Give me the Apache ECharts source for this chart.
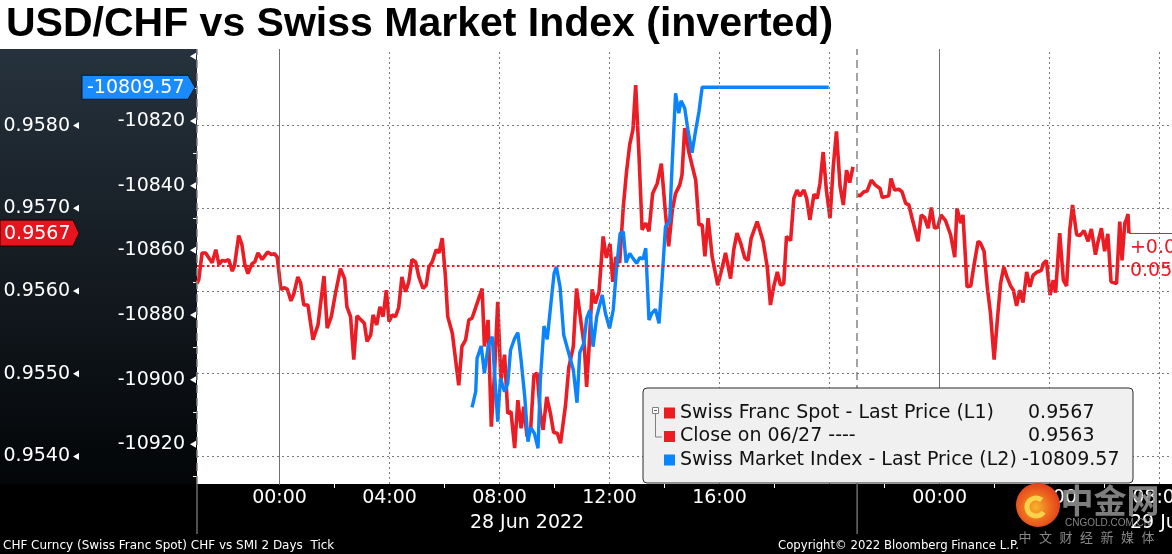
<!DOCTYPE html>
<html><head><meta charset="utf-8">
<script src="https://cdn.jsdelivr.net/npm/echarts@6/dist/echarts.min.js"></script>
<style>html,body{margin:0;padding:0;background:#fff}#c{width:1172px;height:554px}</style>
</head><body><div id="c"></div>
<script>
// ---------------- data ----------------
const chartTitle = 'USD/CHF vs Swiss Market Index (inverted)';
const chfTimes = [
'2022-06-27 21:00','2022-06-27 21:04','2022-06-27 21:11','2022-06-27 21:19','2022-06-27 21:33','2022-06-27 21:41','2022-06-27 21:48','2022-06-27 21:55',
'2022-06-27 22:02','2022-06-27 22:09','2022-06-27 22:17','2022-06-27 22:22','2022-06-27 22:31','2022-06-27 22:38','2022-06-27 22:44','2022-06-27 22:51',
'2022-06-27 23:00','2022-06-27 23:06','2022-06-27 23:13','2022-06-27 23:22','2022-06-27 23:34','2022-06-27 23:42','2022-06-27 23:49','2022-06-27 23:55',
'2022-06-28 00:03','2022-06-28 00:11','2022-06-28 00:17','2022-06-28 00:25','2022-06-28 00:31','2022-06-28 00:40','2022-06-28 00:46','2022-06-28 00:53',
'2022-06-28 01:02','2022-06-28 01:13','2022-06-28 01:24','2022-06-28 01:37','2022-06-28 01:44','2022-06-28 01:53','2022-06-28 02:02','2022-06-28 02:13',
'2022-06-28 02:22','2022-06-28 02:27','2022-06-28 02:35','2022-06-28 02:42','2022-06-28 02:49','2022-06-28 03:05','2022-06-28 03:11','2022-06-28 03:19',
'2022-06-28 03:24','2022-06-28 03:32','2022-06-28 03:39','2022-06-28 03:46','2022-06-28 03:53','2022-06-28 03:59','2022-06-28 04:06','2022-06-28 04:13',
'2022-06-28 04:20','2022-06-28 04:27','2022-06-28 04:35','2022-06-28 04:42','2022-06-28 04:49','2022-06-28 04:57','2022-06-28 05:04','2022-06-28 05:13',
'2022-06-28 05:20','2022-06-28 05:26','2022-06-28 05:33','2022-06-28 05:42','2022-06-28 05:48','2022-06-28 05:55','2022-06-28 06:02','2022-06-28 06:07',
'2022-06-28 06:17','2022-06-28 06:31','2022-06-28 06:38','2022-06-28 06:46','2022-06-28 06:53','2022-06-28 07:00','2022-06-28 07:11','2022-06-28 07:22',
'2022-06-28 07:27','2022-06-28 07:35','2022-06-28 07:42','2022-06-28 07:49','2022-06-28 07:56','2022-06-28 08:03','2022-06-28 08:11','2022-06-28 08:18',
'2022-06-28 08:25','2022-06-28 08:33','2022-06-28 08:40','2022-06-28 08:47','2022-06-28 08:53','2022-06-28 09:00','2022-06-28 09:08','2022-06-28 09:15',
'2022-06-28 09:22','2022-06-28 09:29','2022-06-28 09:35','2022-06-28 09:43','2022-06-28 09:51','2022-06-28 09:58','2022-06-28 10:06','2022-06-28 10:13',
'2022-06-28 10:24','2022-06-28 10:31','2022-06-28 10:41','2022-06-28 10:48','2022-06-28 10:58','2022-06-28 11:05','2022-06-28 11:10','2022-06-28 11:15',
'2022-06-28 11:22','2022-06-28 11:29','2022-06-28 11:37','2022-06-28 11:46','2022-06-28 11:53','2022-06-28 12:01','2022-06-28 12:07','2022-06-28 12:14',
'2022-06-28 12:22','2022-06-28 12:30','2022-06-28 12:37','2022-06-28 12:44','2022-06-28 12:51','2022-06-28 12:57','2022-06-28 13:04','2022-06-28 13:11',
'2022-06-28 13:19','2022-06-28 13:26','2022-06-28 13:34','2022-06-28 13:44','2022-06-28 13:53','2022-06-28 14:02','2022-06-28 14:09','2022-06-28 14:17',
'2022-06-28 14:24','2022-06-28 14:33','2022-06-28 14:38','2022-06-28 14:44','2022-06-28 14:53','2022-06-28 15:00','2022-06-28 15:08','2022-06-28 15:15',
'2022-06-28 15:22','2022-06-28 15:28','2022-06-28 15:35','2022-06-28 15:44','2022-06-28 15:56','2022-06-28 16:06','2022-06-28 16:13','2022-06-28 16:24',
'2022-06-28 16:31','2022-06-28 16:38','2022-06-28 16:46','2022-06-28 16:55','2022-06-28 17:02','2022-06-28 17:09','2022-06-28 17:22','2022-06-28 17:35',
'2022-06-28 17:44','2022-06-28 17:51','2022-06-28 17:58','2022-06-28 18:06','2022-06-28 18:13','2022-06-28 18:20','2022-06-28 18:26','2022-06-28 18:35',
'2022-06-28 18:42','2022-06-28 18:49','2022-06-28 18:55','2022-06-28 19:04','2022-06-28 19:10','2022-06-28 19:17','2022-06-28 19:26','2022-06-28 19:33',
'2022-06-28 19:39','2022-06-28 19:46','2022-06-28 19:53','2022-06-28 20:01','2022-06-28 20:08','2022-06-28 20:15','2022-06-28 20:23','2022-06-28 20:30',
'2022-06-28 20:37','2022-06-28 20:44','2022-06-28 20:51','2022-06-28 21:00','2022-06-28 21:01','2022-06-28 21:06','2022-06-28 21:15','2022-06-28 21:22',
'2022-06-28 21:31','2022-06-28 21:40','2022-06-28 21:50','2022-06-28 21:55','2022-06-28 22:09','2022-06-28 22:14','2022-06-28 22:22','2022-06-28 22:31',
'2022-06-28 22:38','2022-06-28 22:46','2022-06-28 22:53','2022-06-28 23:00','2022-06-28 23:13','2022-06-28 23:20','2022-06-28 23:27','2022-06-28 23:35',
'2022-06-28 23:42','2022-06-28 23:49','2022-06-28 23:56','2022-06-29 00:03','2022-06-29 00:13','2022-06-29 00:24','2022-06-29 00:33','2022-06-29 00:38',
'2022-06-29 00:46','2022-06-29 00:51','2022-06-29 01:00','2022-06-29 01:08','2022-06-29 01:15','2022-06-29 01:24','2022-06-29 01:29','2022-06-29 01:37',
'2022-06-29 01:44','2022-06-29 01:51','2022-06-29 01:59','2022-06-29 02:06','2022-06-29 02:13','2022-06-29 02:20','2022-06-29 02:27','2022-06-29 02:35',
'2022-06-29 02:41','2022-06-29 02:48','2022-06-29 02:55','2022-06-29 03:02','2022-06-29 03:10','2022-06-29 03:17','2022-06-29 03:24','2022-06-29 03:33',
'2022-06-29 03:42','2022-06-29 03:46','2022-06-29 03:53','2022-06-29 04:01','2022-06-29 04:08','2022-06-29 04:13','2022-06-29 04:22','2022-06-29 04:30',
'2022-06-29 04:37','2022-06-29 04:44','2022-06-29 04:50','2022-06-29 04:59','2022-06-29 05:06','2022-06-29 05:15','2022-06-29 05:24','2022-06-29 05:31',
'2022-06-29 05:40','2022-06-29 05:45','2022-06-29 05:53','2022-06-29 06:00','2022-06-29 06:07','2022-06-29 06:14','2022-06-29 06:26','2022-06-29 06:33',
'2022-06-29 06:38','2022-06-29 06:44','2022-06-29 06:48','2022-06-29 06:51','2022-06-29 06:53'
];
const chfValues = [
0.95609,0.95614,0.95646,0.95646,0.95634,0.95650,0.95632,0.95637,
0.95636,0.95638,0.95624,0.95631,0.95667,0.95656,0.95633,0.95621,
0.95633,0.95635,0.95646,0.95638,0.95647,0.95644,0.95645,0.95641,
0.95602,0.95604,0.95602,0.95588,0.95596,0.95617,0.95610,0.95583,
0.95583,0.95541,0.95559,0.95618,0.95555,0.95569,0.95597,0.95627,
0.95615,0.95581,0.95569,0.95517,0.95570,0.95561,0.95539,0.95547,
0.95571,0.95559,0.95581,0.95569,0.95601,0.95563,0.95571,0.95569,
0.95580,0.95617,0.95599,0.95611,0.95638,0.95635,0.95617,0.95603,
0.95607,0.95629,0.95635,0.95650,0.95646,0.95664,0.95617,0.95569,
0.95549,0.95486,0.95533,0.95541,0.95565,0.95567,0.95585,0.95603,
0.95533,0.95565,0.95436,0.95500,0.95587,0.95492,0.95523,0.95452,
0.95454,0.95410,0.95468,0.95434,0.95460,0.95424,0.95434,0.95498,
0.95501,0.95452,0.95432,0.95472,0.95452,0.95429,0.95428,0.95416,
0.95462,0.95507,0.95533,0.95603,0.95561,0.95533,0.95484,0.95529,
0.95602,0.95585,0.95599,0.95666,0.95640,0.95657,0.95611,0.95641,
0.95634,0.95702,0.95744,0.95777,0.95795,0.95849,0.95767,0.95674,
0.95682,0.95672,0.95718,0.95730,0.95754,0.95694,0.95654,0.95698,
0.95718,0.95728,0.95740,0.95797,0.95768,0.95752,0.95734,0.95680,
0.95680,0.95642,0.95688,0.95641,0.95607,0.95629,0.95646,0.95615,
0.95650,0.95670,0.95658,0.95640,0.95637,0.95664,0.95684,0.95660,
0.95629,0.95583,0.95605,0.95623,0.95607,0.95609,0.95666,0.95661,
0.95712,0.95722,0.95715,0.95722,0.95712,0.95686,0.95717,0.95712,
0.95730,0.95768,0.95722,0.95688,0.95750,0.95793,0.95726,0.95704,
0.95746,0.95731,0.95750,null,0.95716,0.95715,0.95720,0.95721,
0.95734,0.95728,0.95724,0.95713,0.95715,0.95736,0.95722,0.95723,
0.95720,0.95706,0.95704,0.95688,0.95660,0.95692,0.95689,0.95676,
0.95701,0.95676,0.95677,0.95692,0.95685,0.95668,0.95641,0.95700,
0.95682,0.95692,0.95605,0.95606,0.95631,0.95660,0.95658,0.95648,
0.95605,0.95573,0.95517,0.95565,0.95609,0.95629,0.95617,0.95606,
0.95601,0.95582,0.95601,0.95586,0.95623,0.95605,0.95619,0.95623,
0.95625,0.95633,0.95637,0.95595,0.95613,0.95598,0.95670,0.95613,
0.95606,0.95674,0.95704,0.95668,0.95667,0.95673,0.95660,0.95675,
0.95644,0.95658,0.95676,0.95648,0.95669,0.95611,0.95609,0.95684,
0.95637,0.95682,0.95687,0.95693,0.95670
];
const smiTimes = [
'2022-06-28 07:00','2022-06-28 07:08','2022-06-28 07:11','2022-06-28 07:20','2022-06-28 07:27','2022-06-28 07:35','2022-06-28 07:44','2022-06-28 07:56',
'2022-06-28 08:02','2022-06-28 08:11','2022-06-28 08:18','2022-06-28 08:24','2022-06-28 08:33','2022-06-28 08:40','2022-06-28 08:47','2022-06-28 08:55',
'2022-06-28 09:02','2022-06-28 09:08','2022-06-28 09:16','2022-06-28 09:24','2022-06-28 09:29','2022-06-28 09:37','2022-06-28 09:44','2022-06-28 09:51',
'2022-06-28 09:59','2022-06-28 10:04','2022-06-28 10:12','2022-06-28 10:20','2022-06-28 10:31','2022-06-28 10:41','2022-06-28 10:49','2022-06-28 10:55',
'2022-06-28 11:04','2022-06-28 11:10','2022-06-28 11:17','2022-06-28 11:24','2022-06-28 11:32','2022-06-28 11:44','2022-06-28 11:51','2022-06-28 12:00',
'2022-06-28 12:08','2022-06-28 12:15','2022-06-28 12:23','2022-06-28 12:30','2022-06-28 12:36','2022-06-28 12:44','2022-06-28 12:51','2022-06-28 12:59',
'2022-06-28 13:06','2022-06-28 13:13','2022-06-28 13:19','2022-06-28 13:26','2022-06-28 13:32','2022-06-28 13:40','2022-06-28 13:48','2022-06-28 13:55',
'2022-06-28 14:02','2022-06-28 14:11','2022-06-28 14:17','2022-06-28 14:24','2022-06-28 14:31','2022-06-28 14:36','2022-06-28 14:44','2022-06-28 14:51',
'2022-06-28 15:00','2022-06-28 15:08','2022-06-28 15:15','2022-06-28 15:22','2022-06-28 19:58'
];
const smiValues = [
-10908.56,-10903.73,-10893.40,-10889.59,-10898.04,-10889.81,-10886.72,-10913.01,
-10899.59,-10903.73,-10901.13,-10890.83,-10887.21,-10885.48,-10893.93,-10905.28,
-10919.20,-10914.74,-10916.60,-10921.24,-10900.11,-10883.41,-10887.52,-10877.93,
-10867.11,-10865.07,-10871.25,-10886.19,-10891.85,-10897.02,-10907.13,-10891.67,
-10888.76,-10881.03,-10878.46,-10889.81,-10880.53,-10873.82,-10879.48,-10884.12,
-10878.46,-10866.09,-10854.74,-10854.24,-10863.83,-10860.92,-10862.47,-10864.01,
-10862.28,-10862.68,-10859.37,-10881.55,-10879.48,-10878.24,-10882.57,-10868.16,
-10852.69,-10851.15,-10832.06,-10811.43,-10817.62,-10813.72,-10816.07,-10822.78,
-10829.80,-10822.78,-10817.12,-10809.57,-10809.57
];
const closeValue = 0.9563;
const chfLast = 0.9567;
const smiLast = -10809.57;
const chfLabelValues = [0.9540, 0.9550, 0.9560, 0.9570, 0.9580];
const chfMinorValues = [0.9545, 0.9555, 0.9565, 0.9575, 0.9585];
const smiLabelValues = [-10920, -10900, -10880, -10860, -10840, -10820];
const smiMarkValues = [-10920, -10900, -10880, -10860, -10840, -10820, -10800];
const smiMinorValues = [-10930, -10910, -10890, -10870, -10850, -10830, -10810];
const hourLabelValues = [0, 4, 8, 12, 16, 24, 28, 32];
const hourTickValues = [2, 6, 10, 14, 18, 22, 26, 30];
const dottedHours = [4, 8, 12, 16, 20, 28, 32];
const solidHours = [0, 24];
const sessionHours = [-3, 21];
const dayLabels = ['28 Jun 2022', '29 Jun 2022'];
const dayCenterHours = [9, 33];
const legendNames = ['Swiss Franc Spot - Last Price (L1)', 'Close on 06/27 ----', 'Swiss Market Index - Last Price (L2)'];
const legendValues = ['0.9567', '0.9563', '-10809.57'];
const changeLabels = ['+0.0', '0.05'];
const footerLeft = 'CHF Curncy (Swiss Franc Spot) CHF vs SMI 2 Days  Tick';
const footerRight = 'Copyright\u00a9 2022 Bloomberg Finance L.P.';

// ---------------- chart ----------------
const FONT = 'DejaVu Sans';
const RED = '#ec1c24';
const BLUE = '#0a84fc';
const toHours = s => { const [d, t] = s.split(' '); const day = +d.split('-')[2]; const [hh, mm] = t.split(':').map(Number); return (day - 28) * 24 + hh + mm / 60; };
const chfData = chfTimes.map((t, i) => [toHours(t), chfValues[i]]);
const smiData = smiTimes.map((t, i) => [toHours(t), smiValues[i]]);
const lastH = toHours(chfTimes[chfTimes.length - 1]);
const X_MIN = -3, X_MAX = 32.45;
const GRID = {left: 197, right: 0, top: 49, bottom: 70};
const pad = n => (n < 10 ? '0' : '') + n;

const dotted = {type: [2, 3], color: '#7a7a7a', width: 1};
const vLines = [].concat(
  dottedHours.map(h => ({xAxis: h, lineStyle: dotted})),
  solidHours.map(h => ({xAxis: h, lineStyle: {type: 'solid', color: '#707070', width: 1}})),
  sessionHours.map(h => ({xAxis: h, lineStyle: {type: [8, 5], color: '#858585', width: 1.5}}))
);
const hLines = chfLabelValues.map(v => [{coord: [X_MIN, v], lineStyle: dotted}, {coord: [X_MAX, v]}]);

const chart = echarts.init(document.getElementById('c'), null, {renderer: 'canvas', width: 1172, height: 554});
chart.setOption({
  animation: false,
  backgroundColor: '#ffffff',
  title: {text: chartTitle, left: 1, top: -1, textStyle: {fontFamily: 'Liberation Sans', fontWeight: 'bold', fontSize: 41, color: '#000'}},
  grid: Object.assign({containLabel: false, outerBoundsMode: 'none'}, GRID),
  xAxis: {
    type: 'value', min: X_MIN, max: X_MAX,
    axisLine: {show: false}, splitLine: {show: false},
    axisTick: {show: true, customValues: hourTickValues, length: 4, lineStyle: {color: '#fff', width: 1}},
    axisLabel: {customValues: hourLabelValues, color: '#fff', fontFamily: FONT, fontSize: 19, margin: 5,
      formatter: v => pad(((v % 24) + 24) % 24) + ':00'}
  },
  yAxis: [
    {type: 'value', position: 'left', offset: 117, min: 0.953666, max: 0.958926,
      axisLine: {show: true, lineStyle: {color: '#ffffff', width: 1}},
      splitLine: {show: false},
      axisTick: {show: true, customValues: chfMinorValues, length: 4, lineStyle: {color: '#fff', width: 1}},
      axisLabel: {customValues: chfLabelValues, color: '#fff', fontFamily: FONT, fontSize: 19, margin: 10,
        formatter: v => v.toFixed(4)}},
    {type: 'value', position: 'left', offset: 0, min: -10932.28, max: -10797.73,
      axisLine: {show: false}, splitLine: {show: false},
      axisTick: {show: true, customValues: smiMinorValues, length: 4, lineStyle: {color: '#fff', width: 1}},
      axisLabel: {customValues: smiLabelValues, color: '#fff', fontFamily: FONT, fontSize: 19, margin: 12,
        formatter: v => String(v)}}
  ],
  series: [
    {type: 'line', name: 'grid', data: [[X_MIN, chfLabelValues[2]]], xAxisIndex: 0, yAxisIndex: 0, silent: true, z: 1,
      showSymbol: false, symbol: 'none', lineStyle: {opacity: 0}, itemStyle: {opacity: 0}, tooltip: {show: false},
      markLine: {silent: true, symbol: ['none', 'none'], label: {show: false}, animation: false, data: vLines.concat(hLines)}},
    {type: 'line', name: legendNames[0], data: chfData, xAxisIndex: 0, yAxisIndex: 0, z: 3,
      showSymbol: false, symbol: 'none', connectNulls: false,
      lineStyle: {color: RED, width: 3.6}, itemStyle: {color: RED},
      markLine: {silent: true, symbol: ['none', 'none'], label: {show: false}, animation: false,
        data: [
          [{coord: [X_MIN, closeValue], lineStyle: {color: RED, type: [2.5, 2.5], width: 2}}, {coord: [X_MAX, closeValue]}],
          [{coord: [lastH, chfLast], lineStyle: {color: RED, type: 'solid', width: 1.2}}, {coord: [X_MAX, chfLast]}]
        ]}},
    {type: 'line', name: legendNames[2], data: smiData, xAxisIndex: 0, yAxisIndex: 1, z: 4,
      showSymbol: false, symbol: 'none',
      lineStyle: {color: BLUE, width: 3.4}, itemStyle: {color: BLUE}}
  ]
});

// ---------------- overlays placed through the axes ----------------
const px = h => chart.convertToPixel({xAxisIndex: 0}, h);
const py1 = v => chart.convertToPixel({yAxisIndex: 0}, v);
const py2 = v => chart.convertToPixel({yAxisIndex: 1}, v);
const gTop = GRID.top, gBottom = 554 - GRID.bottom, gLeft = GRID.left, ax1 = gLeft - 117;
const txt = (x, y, text, size, color, align, extra) => Object.assign({type: 'text', x: x, y: y, z: 60,
  style: {text: text, fill: color, fontFamily: FONT, fontSize: size, align: align || 'left', textAlign: align || 'left',
    verticalAlign: 'middle', textVerticalAlign: 'middle'}}, extra || {});
const G = [];
G.push({type: 'rect', z: -10, shape: {x: 0, y: gTop, width: gLeft, height: gBottom - gTop},
  style: {fill: {type: 'linear', x: 0, y: 0, x2: 0, y2: 1, colorStops: [{offset: 0, color: '#26323d'}, {offset: 1, color: '#030507'}]}}});
G.push({type: 'rect', z: -10, shape: {x: 0, y: gBottom, width: 1172, height: 554 - gBottom}, style: {fill: '#000'}});
sessionHours.forEach(h => G.push({type: 'line', z: 5, shape: {x1: px(h), y1: gBottom, x2: px(h), y2: gBottom + 50}, style: {stroke: '#a0a0a0', lineWidth: 1}}));
dayLabels.forEach((d, i) => G.push(txt(px(dayCenterHours[i]), 523, d, 19, '#fff', 'center')));
chfLabelValues.forEach(v => { const y = py1(v); G.push({type: 'polygon', z: 20, shape: {points: [[ax1 - 7, y], [ax1 - 1, y - 3.5], [ax1 - 1, y + 3.5]]}, style: {fill: '#fff'}}); });
smiMarkValues.forEach(v => { const y = py2(v); G.push({type: 'polygon', z: 20, shape: {points: [[gLeft - 7, y], [gLeft - 1, y - 3.5], [gLeft - 1, y + 3.5]]}, style: {fill: '#fff'}}); });
// last value tags
const y1 = py1(chfLast);
G.push({type: 'polygon', z: 30, shape: {points: [[0, y1 - 13], [73, y1 - 13], [79, y1], [73, y1 + 13], [0, y1 + 13]]}, style: {fill: '#e5141e', stroke: '#200000', lineWidth: 1}});
G.push(txt(4, y1 + 1, chfLast.toFixed(4), 19, '#fff', 'left'));
const y2 = py2(smiLast);
G.push({type: 'polygon', z: 30, shape: {points: [[82, y2 - 12], [188, y2 - 12], [195, y2], [188, y2 + 12], [82, y2 + 12]]}, style: {fill: '#1a8bff', stroke: '#08182a', lineWidth: 1}});
G.push(txt(87, y2 + 1, smiLast.toFixed(2), 19, '#fff', 'left'));
// change labels at the end of the line
const xe = px(lastH);
G.push(txt(xe + 1, y1 + 15, changeLabels[0], 19, RED, 'left'));
G.push(txt(xe + 1, y1 + 38, changeLabels[1], 19, RED, 'left'));
// legend box
G.push({type: 'rect', z: 50, shape: {x: 643, y: 388, width: 490, height: 95, r: 4}, style: {fill: '#f0f0f0', stroke: '#2a2a2a', lineWidth: 1}});
const rowY = [413, 436.5, 460];
G.push({type: 'rect', z: 55, shape: {x: 652.5, y: 407.5, width: 6, height: 6}, style: {fill: '#fff', stroke: '#808080', lineWidth: 1}});
G.push({type: 'line', z: 56, shape: {x1: 654, y1: 410.5, x2: 657, y2: 410.5}, style: {stroke: '#606060', lineWidth: 1}});
G.push({type: 'polyline', z: 55, shape: {points: [[655.5, 414], [655.5, 437], [662, 437]]}, style: {stroke: '#808080', lineWidth: 1, fill: null}});
const legendColors = [RED, RED, BLUE];
rowY.forEach((y, i) => {
  G.push({type: 'rect', z: 55, shape: {x: 664, y: y - 5.5, width: 11, height: 11}, style: {fill: legendColors[i]}});
  G.push(txt(680, y, legendNames[i], 19, '#111', 'left'));
  G.push(txt(i === 2 ? 1022 : 1028, y, legendValues[i], 19, '#111', 'left'));
});
// footer
G.push(txt(3, 546, footerLeft, 12, '#fff', 'left'));
G.push(txt(778, 546, footerRight, 11.7, '#fff', 'left'));
// watermark
G.push({type: 'circle', z: 70, shape: {cx: 1038, cy: 505, r: 22},
  style: {fill: {type: 'radial', x: 0.45, y: 0.55, r: 0.7, colorStops: [{offset: 0, color: '#f7b42c'}, {offset: 0.45, color: '#ee6a1e'}, {offset: 1, color: '#d8261b'}]}}});
G.push({type: 'arc', z: 71, shape: {cx: 1036, cy: 507, r: 9, startAngle: 0.6, endAngle: 5.4}, style: {stroke: '#fbd24a', lineWidth: 5, fill: null}});
G.push({type: 'text', z: 70, x: 1110, y: 500, style: {text: '中金网', fill: 'rgba(140,140,140,0.9)', fontFamily: 'Noto Sans CJK SC', fontWeight: 'bold', fontSize: 33, align: 'center', textAlign: 'center', verticalAlign: 'middle', textVerticalAlign: 'middle'}});
G.push({type: 'text', z: 70, x: 1108, y: 523, style: {text: 'CNGOLD.COM.CN', fill: 'rgba(150,150,150,0.9)', fontFamily: 'Liberation Sans', fontSize: 10, align: 'center', textAlign: 'center', verticalAlign: 'middle', textVerticalAlign: 'middle'}});
'中文财经新媒体'.split('').forEach((c, i) => G.push({type: 'text', z: 70, x: 1025 + i * 20.5, y: 537,
  style: {text: c, fill: 'rgba(150,150,150,0.9)', fontFamily: 'Noto Sans CJK SC', fontSize: 13, align: 'center', textAlign: 'center', verticalAlign: 'middle', textVerticalAlign: 'middle'}}));
chart.setOption({graphic: {elements: G}});
</script></body></html>
